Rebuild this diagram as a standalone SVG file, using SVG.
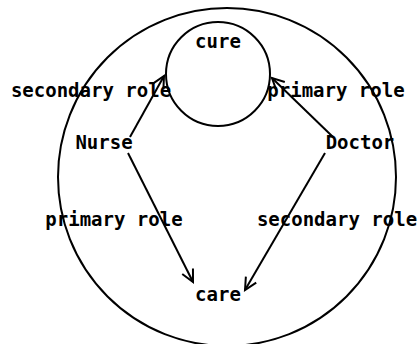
<svg xmlns="http://www.w3.org/2000/svg" width="420" height="344" viewBox="0 0 420 344">
<style>
text{font-family:"DejaVu Sans Mono","Liberation Mono",monospace;font-size:19px;font-weight:bold;fill:#000}
.c{fill:none;stroke:#000;stroke-width:2}
.e{fill:none;stroke:#000;stroke-width:2;marker-end:url(#a)}
</style>
<defs>
<marker id="a" markerWidth="16" markerHeight="16" refX="13" refY="7" orient="auto" markerUnits="userSpaceOnUse">
<path d="M1,1 L13,7 L1,13" fill="none" stroke="#000" stroke-width="2"/>
</marker>
</defs>
<rect width="420" height="344" fill="#fff"/>
<g id="boundary"><circle class="c" cx="227" cy="177" r="169"/></g>
<g id="cure"><circle class="c" cx="218" cy="74" r="52"/><text x="218" y="48" text-anchor="middle">cure</text></g>
<g id="care"><text x="218" y="301" text-anchor="middle">care</text></g>
<g id="nurse"><text x="104" y="149" text-anchor="middle">Nurse</text></g>
<g id="doctor"><text x="360" y="149" text-anchor="middle">Doctor</text></g>
<g id="connectors">
<line class="e" x1="130" y1="137" x2="164" y2="76"/>
<line class="e" x1="333" y1="137" x2="272" y2="78"/>
<line class="e" x1="128" y1="153" x2="193" y2="282"/>
<line class="e" x1="325" y1="153" x2="245" y2="290"/>
<text x="91" y="97" text-anchor="middle">secondary role</text>
<text x="336" y="97" text-anchor="middle">primary role</text>
<text x="114" y="226" text-anchor="middle">primary role</text>
<text x="337" y="226" text-anchor="middle">secondary role</text>
</g>
</svg>
